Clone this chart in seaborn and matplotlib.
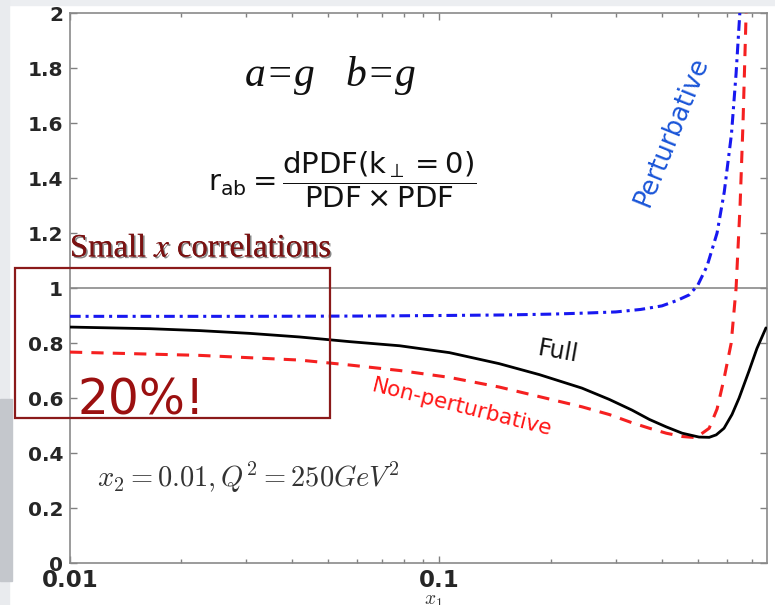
import numpy as np
import pandas as pd
import seaborn as sns
import matplotlib.pyplot as plt
import matplotlib.patheffects as pe
from matplotlib.patches import Rectangle

# values (x1 on a log axis, r_ab on linear)
full_x = [0.01, 0.0165, 0.0225, 0.0307, 0.0418, 0.0571, 0.078, 0.1064, 0.145, 0.1864,
          0.243, 0.288, 0.332, 0.37, 0.411, 0.454, 0.504, 0.537, 0.561, 0.589,
          0.619, 0.647, 0.689, 0.723, 0.765]
full_y = [0.858, 0.852, 0.845, 0.835, 0.822, 0.805, 0.79, 0.765, 0.725, 0.685,
          0.636, 0.595, 0.556, 0.522, 0.495, 0.472, 0.458, 0.457, 0.466, 0.49,
          0.54, 0.60, 0.70, 0.78, 0.855]

nonpert_x = [0.01, 0.0225, 0.0418, 0.0571, 0.078, 0.1064, 0.145, 0.1864, 0.243, 0.288,
             0.332, 0.37, 0.411, 0.454, 0.495, 0.537, 0.564, 0.589, 0.616, 0.635,
             0.651, 0.663, 0.676]
nonpert_y = [0.767, 0.755, 0.738, 0.72, 0.70, 0.675, 0.64, 0.605, 0.568, 0.54,
             0.51, 0.49, 0.472, 0.46, 0.456, 0.49, 0.56, 0.67, 0.80, 1.0,
             1.3, 1.6, 2.0]

pert_x = [0.01, 0.03, 0.06, 0.1, 0.15, 0.2, 0.25, 0.3, 0.35, 0.4,
          0.44, 0.474, 0.5, 0.53, 0.564, 0.59, 0.617, 0.635, 0.65]
pert_y = [0.897, 0.897, 0.898, 0.9, 0.902, 0.905, 0.909, 0.913, 0.922, 0.935,
          0.955, 0.975, 1.01, 1.08, 1.2, 1.35, 1.56, 1.78, 2.0]

y_ticks = [0, 0.2, 0.4, 0.6, 0.8, 1, 1.2, 1.4, 1.6, 1.8, 2]
x_ticks = [0.01, 0.1]
x_tick_labels = ["0.01", "0.1"]

sns.set_theme(style="ticks")
plt.rcParams["font.family"] = ["DejaVu Sans"]

fig = plt.figure(figsize=(7.75, 6.05), dpi=100, facecolor="white")
ax = fig.add_axes([0.0903, 0.0694, 0.8994, 0.9091])

# slide-like grey strips around the figure
fig.patches.append(Rectangle((0, 0.992), 1, 0.008, transform=fig.transFigure,
                             color="#eceef1", zorder=0))
fig.patches.append(Rectangle((0, 0), 0.011, 1, transform=fig.transFigure,
                             color="#e9ebee", zorder=0))
fig.patches.append(Rectangle((0, 0.04), 0.016, 0.30, transform=fig.transFigure,
                             color="#c4c7cc", zorder=0))

ax.axhline(1, color="#8a8a8a", lw=1.2, zorder=1)

full = pd.DataFrame({"x": full_x, "y": full_y})
nonpert = pd.DataFrame({"x": nonpert_x, "y": nonpert_y})
pert = pd.DataFrame({"x": pert_x, "y": pert_y})

sns.lineplot(data=pert, x="x", y="y", ax=ax, color="#1818f0", lw=2.2,
             linestyle=(0, (3.5, 1.6, 1.0, 1.6)), zorder=3)
sns.lineplot(data=nonpert, x="x", y="y", ax=ax, color="#f52020", lw=2.2,
             linestyle=(0, (4, 3)), zorder=3)
sns.lineplot(data=full, x="x", y="y", ax=ax, color="black", lw=2.0, zorder=4)

ax.set_xscale("log")
ax.set_xlim(0.01, 0.77)
ax.set_ylim(0, 2)
ax.set_yticks(y_ticks)
ax.set_yticklabels([f"{v:g}" for v in y_ticks])
ax.set_xticks(x_ticks)
ax.set_xticklabels(x_tick_labels)
ax.tick_params(axis="both", which="both", direction="in", top=True, right=True,
               color="#808080", pad=5)
ax.tick_params(axis="y", labelsize=14.5)
ax.tick_params(axis="x", labelsize=16.5, pad=4)
ax.tick_params(which="major", length=5, width=1)
ax.tick_params(which="minor", length=3, width=1)
for lab in ax.get_xticklabels() + ax.get_yticklabels():
    lab.set_fontweight("bold")
for sp in ax.spines.values():
    sp.set_color("#8a8a8a")
    sp.set_linewidth(1.2)

ax.set_ylabel("")
ax.set_xlabel(r"$x_1$", fontsize=14, math_fontfamily="cm", color="#333333")
ax.xaxis.set_label_coords(0.522, -0.051)

# annotations
ax.text(0.373, 0.887, "a=g   b=g", transform=ax.transAxes, ha="center", va="center",
        fontsize=30, family="Liberation Serif", style="italic", color="#111111")
ax.text(0.39, 0.697,
        r"$\mathsf{r_{ab}} = \dfrac{\mathsf{dPDF(k_{\perp} = 0)}}{\mathsf{PDF \times PDF}}$",
        transform=ax.transAxes, ha="center", va="center", fontsize=21,
        math_fontfamily="dejavusans", color="#111111")
ax.text(0.864, 0.785, "Perturbative", transform=ax.transAxes, ha="center", va="center",
        rotation=68, fontsize=18.5, family="DejaVu Sans", color="#1a55d8")
ax.text(0.7, 0.385, "Full", transform=ax.transAxes, ha="center", va="center",
        rotation=-10, fontsize=17, family="DejaVu Sans", color="#111111")
ax.text(0.562, 0.283, "Non-perturbative", transform=ax.transAxes, ha="center",
        va="center", rotation=-14, fontsize=15.5, family="DejaVu Sans", color="#ff1515")
ax.text(0.039, 0.155, r"$x_2 = 0.01, Q^2 = 250GeV^2$", transform=ax.transAxes,
        ha="left", va="center", fontsize=20.5, math_fontfamily="cm", color="#333333")

ax.text(0.0, 0.572, r"Small $x$ correlations", transform=ax.transAxes, ha="left",
        va="center", fontsize=23.5, family="Liberation Serif", math_fontfamily="stix",
        color="#7a1212",
        path_effects=[pe.withSimplePatchShadow(offset=(1.2, -1.2), shadow_rgbFace="#555555",
                                               alpha=0.7), pe.Normal()])
ax.add_patch(Rectangle((-0.079, 0.264), 0.452, 0.272, transform=ax.transAxes,
                       fill=False, edgecolor="#8b1a1a", lw=1.6, clip_on=False, zorder=5))
ax.text(0.011, 0.295, "20%!", transform=ax.transAxes, ha="left", va="center",
        fontsize=35, family="DejaVu Sans", color="#9b1010")

fig.savefig("out.png", dpi=100, facecolor=fig.get_facecolor())
